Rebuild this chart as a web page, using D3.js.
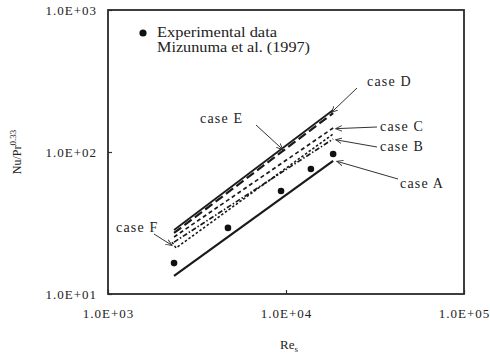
<!DOCTYPE html>
<html><head><meta charset="utf-8">
<script src="https://cdn.jsdelivr.net/npm/d3@7"></script>
<style>
html,body{margin:0;padding:0;background:#fff;}
svg{display:block;}
text{font-family:"Liberation Serif","Times New Roman",serif;fill:#222;}
</style></head>
<body>
<svg id="chart" width="490" height="358"></svg>
<script>
// ---- data ----
const xTicks = [1e3, 1e4, 1e5];
const xTickLabels = ["1.0E+03", "1.0E+04", "1.0E+05"];
const yTicks = [10, 100, 1000];
const yTickLabels = ["1.0E+01", "1.0E+02", "1.0E+03"];

const reExp = [2350, 4720, 9380, 13800, 18400];
const nuExp = [16.5, 29.2, 53.1, 75.9, 96.8];

const reLine = [2350, 18400];
const caseA = [13.4, 86.5];
const caseB = [23.2, 123.5];
const caseC = [25.2, 147.6];
const caseD = [26.9, 188];
const caseE = [28.2, 197.6];
const reF = [2290, 2410, 18400];
const caseF = [23.2, 21.1, 133.9];

const caseNames = ["case A", "case B", "case C", "case D", "case E", "case F"];

// ---- layout ----
const W = 490, H = 358;
const m = {left: 108, top: 10, right: 26, bottom: 64};
const pw = W - m.left - m.right, ph = H - m.top - m.bottom;

const svg = d3.select("#chart");
const g = svg.append("g").attr("transform", `translate(${m.left},${m.top})`);

const x = d3.scaleLog().domain([1e3, 1e5]).range([0, pw]);
const y = d3.scaleLog().domain([10, 1000]).range([ph, 0]);

// axes
const xAxis = d3.axisBottom(x).tickValues(xTicks)
  .tickFormat((d, i) => xTickLabels[i]).tickSizeInner(-4).tickSizeOuter(0).tickPadding(15);
const yAxis = d3.axisLeft(y).tickValues(yTicks)
  .tickFormat((d, i) => yTickLabels[i]).tickSizeInner(-4).tickSizeOuter(0).tickPadding(11);

const gx = g.append("g").attr("transform", `translate(0,${ph})`).call(xAxis);
const gy = g.append("g").call(yAxis);
[gx, gy].forEach(a => {
  a.select(".domain").remove();
  a.selectAll(".tick line").attr("stroke", "#333").attr("stroke-width", 1.2);
  a.selectAll(".tick text").attr("font-family", "Liberation Serif, serif")
    .attr("font-size", 13).attr("fill", "#222").style("letter-spacing", "1px");
});

// frame
g.append("rect").attr("x", 0).attr("y", 0).attr("width", pw).attr("height", ph)
  .attr("fill", "none").attr("stroke", "#2a2a2a").attr("stroke-width", 1.8);

// lines
const line = d3.line().x(d => x(d[0])).y(d => y(d[1]));
const series = [
  {re: reLine, nu: caseA, dash: null, w: 2.2},
  {re: reLine, nu: caseB, dash: "5,2,1.5,2", w: 1.7},
  {re: reLine, nu: caseC, dash: "4,3", w: 1.7},
  {re: reLine, nu: caseD, dash: "9,4", w: 2.2},
  {re: reLine, nu: caseE, dash: null, w: 1.8},
  {re: reF, nu: caseF, dash: "2.5,2", w: 1.6}
];
series.forEach(s => {
  g.append("path").datum(s.re.map((r, i) => [r, s.nu[i]]))
    .attr("d", line).attr("fill", "none").attr("stroke", "#1a1a1a")
    .attr("stroke-width", s.w).attr("stroke-dasharray", s.dash);
});

// experimental points
g.selectAll("circle.exp").data(reExp.map((r, i) => [r, nuExp[i]])).enter()
  .append("circle").attr("class", "exp")
  .attr("cx", d => x(d[0])).attr("cy", d => y(d[1])).attr("r", 3.3).attr("fill", "#111");

// arrow marker
svg.append("defs").append("marker").attr("id", "arr")
  .attr("viewBox", "0 0 10 10").attr("refX", 9).attr("refY", 5)
  .attr("markerWidth", 7).attr("markerHeight", 7).attr("orient", "auto")
  .append("path").attr("d", "M0,1 L9,5 L0,9").attr("fill", "none")
  .attr("stroke", "#333").attr("stroke-width", 1.3);

// case labels and leaders (label position in page px, arrow to a point on the data)
const labels = [
  {t: caseNames[3], lx: 367, ly: 86, from: [357, 88], to: [x(18000) + m.left, y(190) + m.top]},
  {t: caseNames[2], lx: 380, ly: 131, from: [377, 127], to: [x(19000) + m.left, y(146) + m.top]},
  {t: caseNames[1], lx: 380, ly: 151, from: [377, 147], to: [x(19000) + m.left, y(122) + m.top]},
  {t: caseNames[0], lx: 400, ly: 188, from: [398, 179], to: [x(19300) + m.left, y(86) + m.top]},
  {t: caseNames[4], lx: 200, ly: 123, from: [256, 125], to: [x(9600) + m.left, y(104) + m.top]},
  {t: caseNames[5], lx: 116, ly: 232, from: [154, 234], to: [x(2290) + m.left, y(22) + m.top]}
];
labels.forEach(l => {
  svg.append("line").attr("x1", l.from[0]).attr("y1", l.from[1])
    .attr("x2", l.to[0]).attr("y2", l.to[1])
    .attr("stroke", "#333").attr("stroke-width", 1).attr("marker-end", "url(#arr)");
  svg.append("text").attr("x", l.lx).attr("y", l.ly).attr("font-size", 14)
    .style("letter-spacing", "1.2px").text(l.t);
});

// legend
svg.append("circle").attr("cx", 143).attr("cy", 33).attr("r", 3.6).attr("fill", "#111");
svg.append("text").attr("x", 157).attr("y", 37).attr("font-size", 14)
  .attr("textLength", 120).attr("lengthAdjust", "spacingAndGlyphs").text("Experimental data");
svg.append("text").attr("x", 157).attr("y", 52).attr("font-size", 14)
  .attr("textLength", 153).attr("lengthAdjust", "spacingAndGlyphs").text("Mizunuma et al. (1997)");

// axis titles
const yt = svg.append("text").attr("transform", "translate(21,152) rotate(-90)")
  .attr("text-anchor", "middle").attr("font-size", 12);
yt.append("tspan").text("Nu/Pr");
yt.append("tspan").attr("dy", -5).attr("font-size", 9).text("0.33");

const xt = svg.append("text").attr("x", 289).attr("y", 349)
  .attr("text-anchor", "middle").attr("font-size", 13);
xt.append("tspan").text("Re");
xt.append("tspan").attr("dy", 3).attr("font-size", 9).text("s");
</script>
</body></html>
